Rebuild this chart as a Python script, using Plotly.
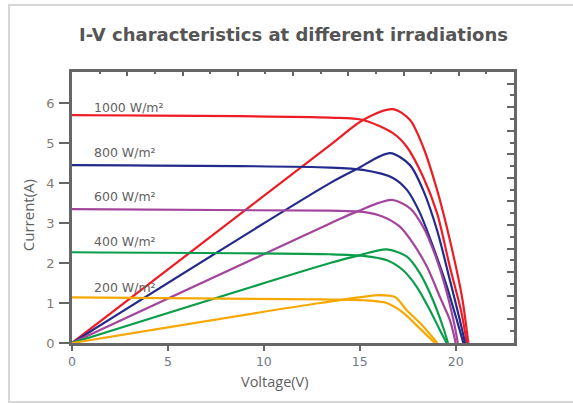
import plotly.graph_objects as go

# ---------------- data ----------------
irradiance_labels = ["1000 W/m²", "800 W/m²", "600 W/m²", "400 W/m²", "200 W/m²"]
label_y = [5.89, 4.77, 3.66, 2.53, 1.38]
colors = ["#ee1c25", "#232a8c", "#a3459c", "#0b9d4a", "#f7a800"]

# I-V curves (voltage V, current A)
iv_v_1000 = [0, 13.45, 15.17, 16.73, 17.45, 18.30, 19.03, 19.70, 20.31, 20.58]
iv_i_1000 = [5.70, 5.64, 5.58, 5.25, 4.91, 4.16, 3.25, 1.90, 0.74, 0]
iv_v_800 = [0, 13.45, 15.17, 16.73, 17.46, 18.14, 18.82, 19.55, 20.11, 20.40]
iv_i_800 = [4.45, 4.39, 4.33, 4.13, 3.83, 3.25, 2.41, 1.40, 0.49, 0]
iv_v_600 = [0, 13.45, 15.17, 16.21, 17.09, 17.78, 18.51, 19.18, 19.70, 20.0]
iv_i_600 = [3.35, 3.31, 3.28, 3.16, 2.91, 2.49, 1.90, 1.15, 0.57, 0]
iv_v_400 = [0, 13.45, 15.17, 16.42, 17.26, 17.98, 18.66, 19.18, 19.53]
iv_i_400 = [2.27, 2.22, 2.18, 2.07, 1.82, 1.40, 0.82, 0.32, 0]
iv_v_200 = [0, 12.93, 15.17, 16.40, 17.26, 18.14, 18.92]
iv_i_200 = [1.14, 1.09, 1.07, 1.00, 0.76, 0.36, 0]

# P-V curves (voltage V, power on the same scale)
pv_v_1000 = [0, 13.45, 15.17, 16.73, 17.62, 18.30, 19.03, 19.70, 20.33, 20.66]
pv_p_1000 = [0, 4.95, 5.58, 5.85, 5.58, 4.91, 3.83, 2.57, 1.15, 0]
pv_v_800 = [0, 13.45, 14.84, 16.58, 17.62, 18.30, 19.03, 19.70, 20.22, 20.49]
pv_p_800 = [0, 4.00, 4.35, 4.75, 4.45, 3.83, 2.82, 1.57, 0.57, 0]
pv_v_600 = [0, 13.45, 14.91, 16.67, 17.62, 18.30, 19.03, 19.55, 19.96, 20.11]
pv_p_600 = [0, 2.99, 3.30, 3.58, 3.37, 2.91, 2.07, 1.24, 0.40, 0]
pv_v_400 = [0, 13.45, 15.02, 16.40, 17.46, 18.14, 18.82, 19.34, 19.60]
pv_p_400 = [0, 2.00, 2.20, 2.34, 2.16, 1.74, 1.07, 0.40, 0]
pv_v_200 = [0, 12.93, 16.06, 16.84, 17.45, 18.30, 19.04]
pv_p_200 = [0, 1.00, 1.20, 1.15, 0.82, 0.42, 0]

x_ticks = [0, 5, 10, 15, 20]
y_ticks = [0, 1, 2, 3, 4, 5, 6]

iv_sets = [(iv_v_1000, iv_i_1000), (iv_v_800, iv_i_800), (iv_v_600, iv_i_600),
           (iv_v_400, iv_i_400), (iv_v_200, iv_i_200)]
pv_sets = [(pv_v_1000, pv_p_1000), (pv_v_800, pv_p_800), (pv_v_600, pv_p_600),
           (pv_v_400, pv_p_400), (pv_v_200, pv_p_200)]

AX = "#666666"
TXT = "#5f5f5f"
FONT = "DejaVu Sans"

fig = go.Figure()
for (v, i), (pv, pp), c, name in zip(iv_sets, pv_sets, colors, irradiance_labels):
    fig.add_trace(go.Scatter(x=v, y=i, mode="lines", name=name + " I-V",
                             line=dict(color=c, width=2.2, shape="spline", smoothing=0.8),
                             showlegend=False, hoverinfo="skip"))
    fig.add_trace(go.Scatter(x=pv, y=pp, mode="lines", name=name + " P-V",
                             line=dict(color=c, width=2.2, shape="spline", smoothing=0.8),
                             showlegend=False, hoverinfo="skip"))

# empty trace to carry the mirrored top/right frame axes
fig.add_trace(go.Scatter(x=[], y=[], xaxis="x2", yaxis="y2", showlegend=False))

fig.update_layout(
    width=573, height=403,
    margin=dict(l=72, r=59, t=72, b=60),
    paper_bgcolor="white", plot_bgcolor="white",
    font=dict(family=FONT, color=TXT),
    xaxis=dict(range=[0, 23.04], tickvals=x_ticks, showgrid=False, zeroline=False,
               showline=True, linecolor=AX, linewidth=2.5,
               ticks="outside", ticklen=5, tickwidth=2, tickcolor=AX,
               tickfont=dict(size=12.5, color="#6f7788", family=FONT)),
    yaxis=dict(range=[0, 6.78], tickvals=y_ticks, showgrid=False, zeroline=False,
               showline=True, linecolor=AX, linewidth=2.5,
               ticks="outside", ticklen=10, tickwidth=2, tickcolor=AX,
               ticklabelstandoff=2,
               tickfont=dict(size=13, color="#857a70", family=FONT)),
    xaxis2=dict(overlaying="x", side="top", anchor="y", range=[0, 16], dtick=2,
                showgrid=False, zeroline=False, showticklabels=False,
                showline=True, linecolor=AX, linewidth=2.5,
                ticks="inside", ticklen=4, tickwidth=2, tickcolor=AX,
                minor=dict(dtick=1, ticks="inside", ticklen=2, tickwidth=2, tickcolor=AX)),
    yaxis2=dict(overlaying="y", side="right", anchor="x", range=[0, 11.49], dtick=1,
                showgrid=False, zeroline=False, showticklabels=False,
                showline=True, linecolor=AX, linewidth=2.5,
                ticks="inside", ticklen=7, tickwidth=2, tickcolor=AX,
                minor=dict(dtick=0.5, ticks="inside", ticklen=4, tickwidth=2, tickcolor=AX)),
)

ann = [
    dict(text="<b>I-V characteristics at different irradiations</b>", x=0.5, y=1.137,
         xref="paper", yref="paper", showarrow=False, font=dict(size=18, color="#555555", family=FONT),
         xanchor="center", yanchor="middle"),
    dict(text="Voltage(V)", x=0.459, y=-0.1415, xref="paper", yref="paper", showarrow=False,
         font=dict(size=14.5, color=TXT, family="Open Sans"), xanchor="center", yanchor="middle"),
    dict(text="Current(A)", x=-0.0995, y=0.4717, xref="paper", yref="paper", showarrow=False,
         textangle=-90, font=dict(size=15, color=TXT, family="Open Sans"),
         xanchor="center", yanchor="middle"),
]
for lab, ly in zip(irradiance_labels, label_y):
    ann.append(dict(text=lab, x=0.046, y=ly, xref="paper", yref="y", showarrow=False,
                    xanchor="left", yanchor="middle", font=dict(size=12.5, color=TXT, family=FONT)))
fig.update_layout(annotations=ann)

fig.add_shape(type="rect", xref="paper", yref="paper", x0=-0.1425, x1=1.16, y0=-0.2177, y1=1.247,
              line=dict(color="#d6d6d6", width=2), layer="below")

fig.write_html("out.html", config={"displayModeBar": False},
               post_script="document.body.style.margin='0';")
